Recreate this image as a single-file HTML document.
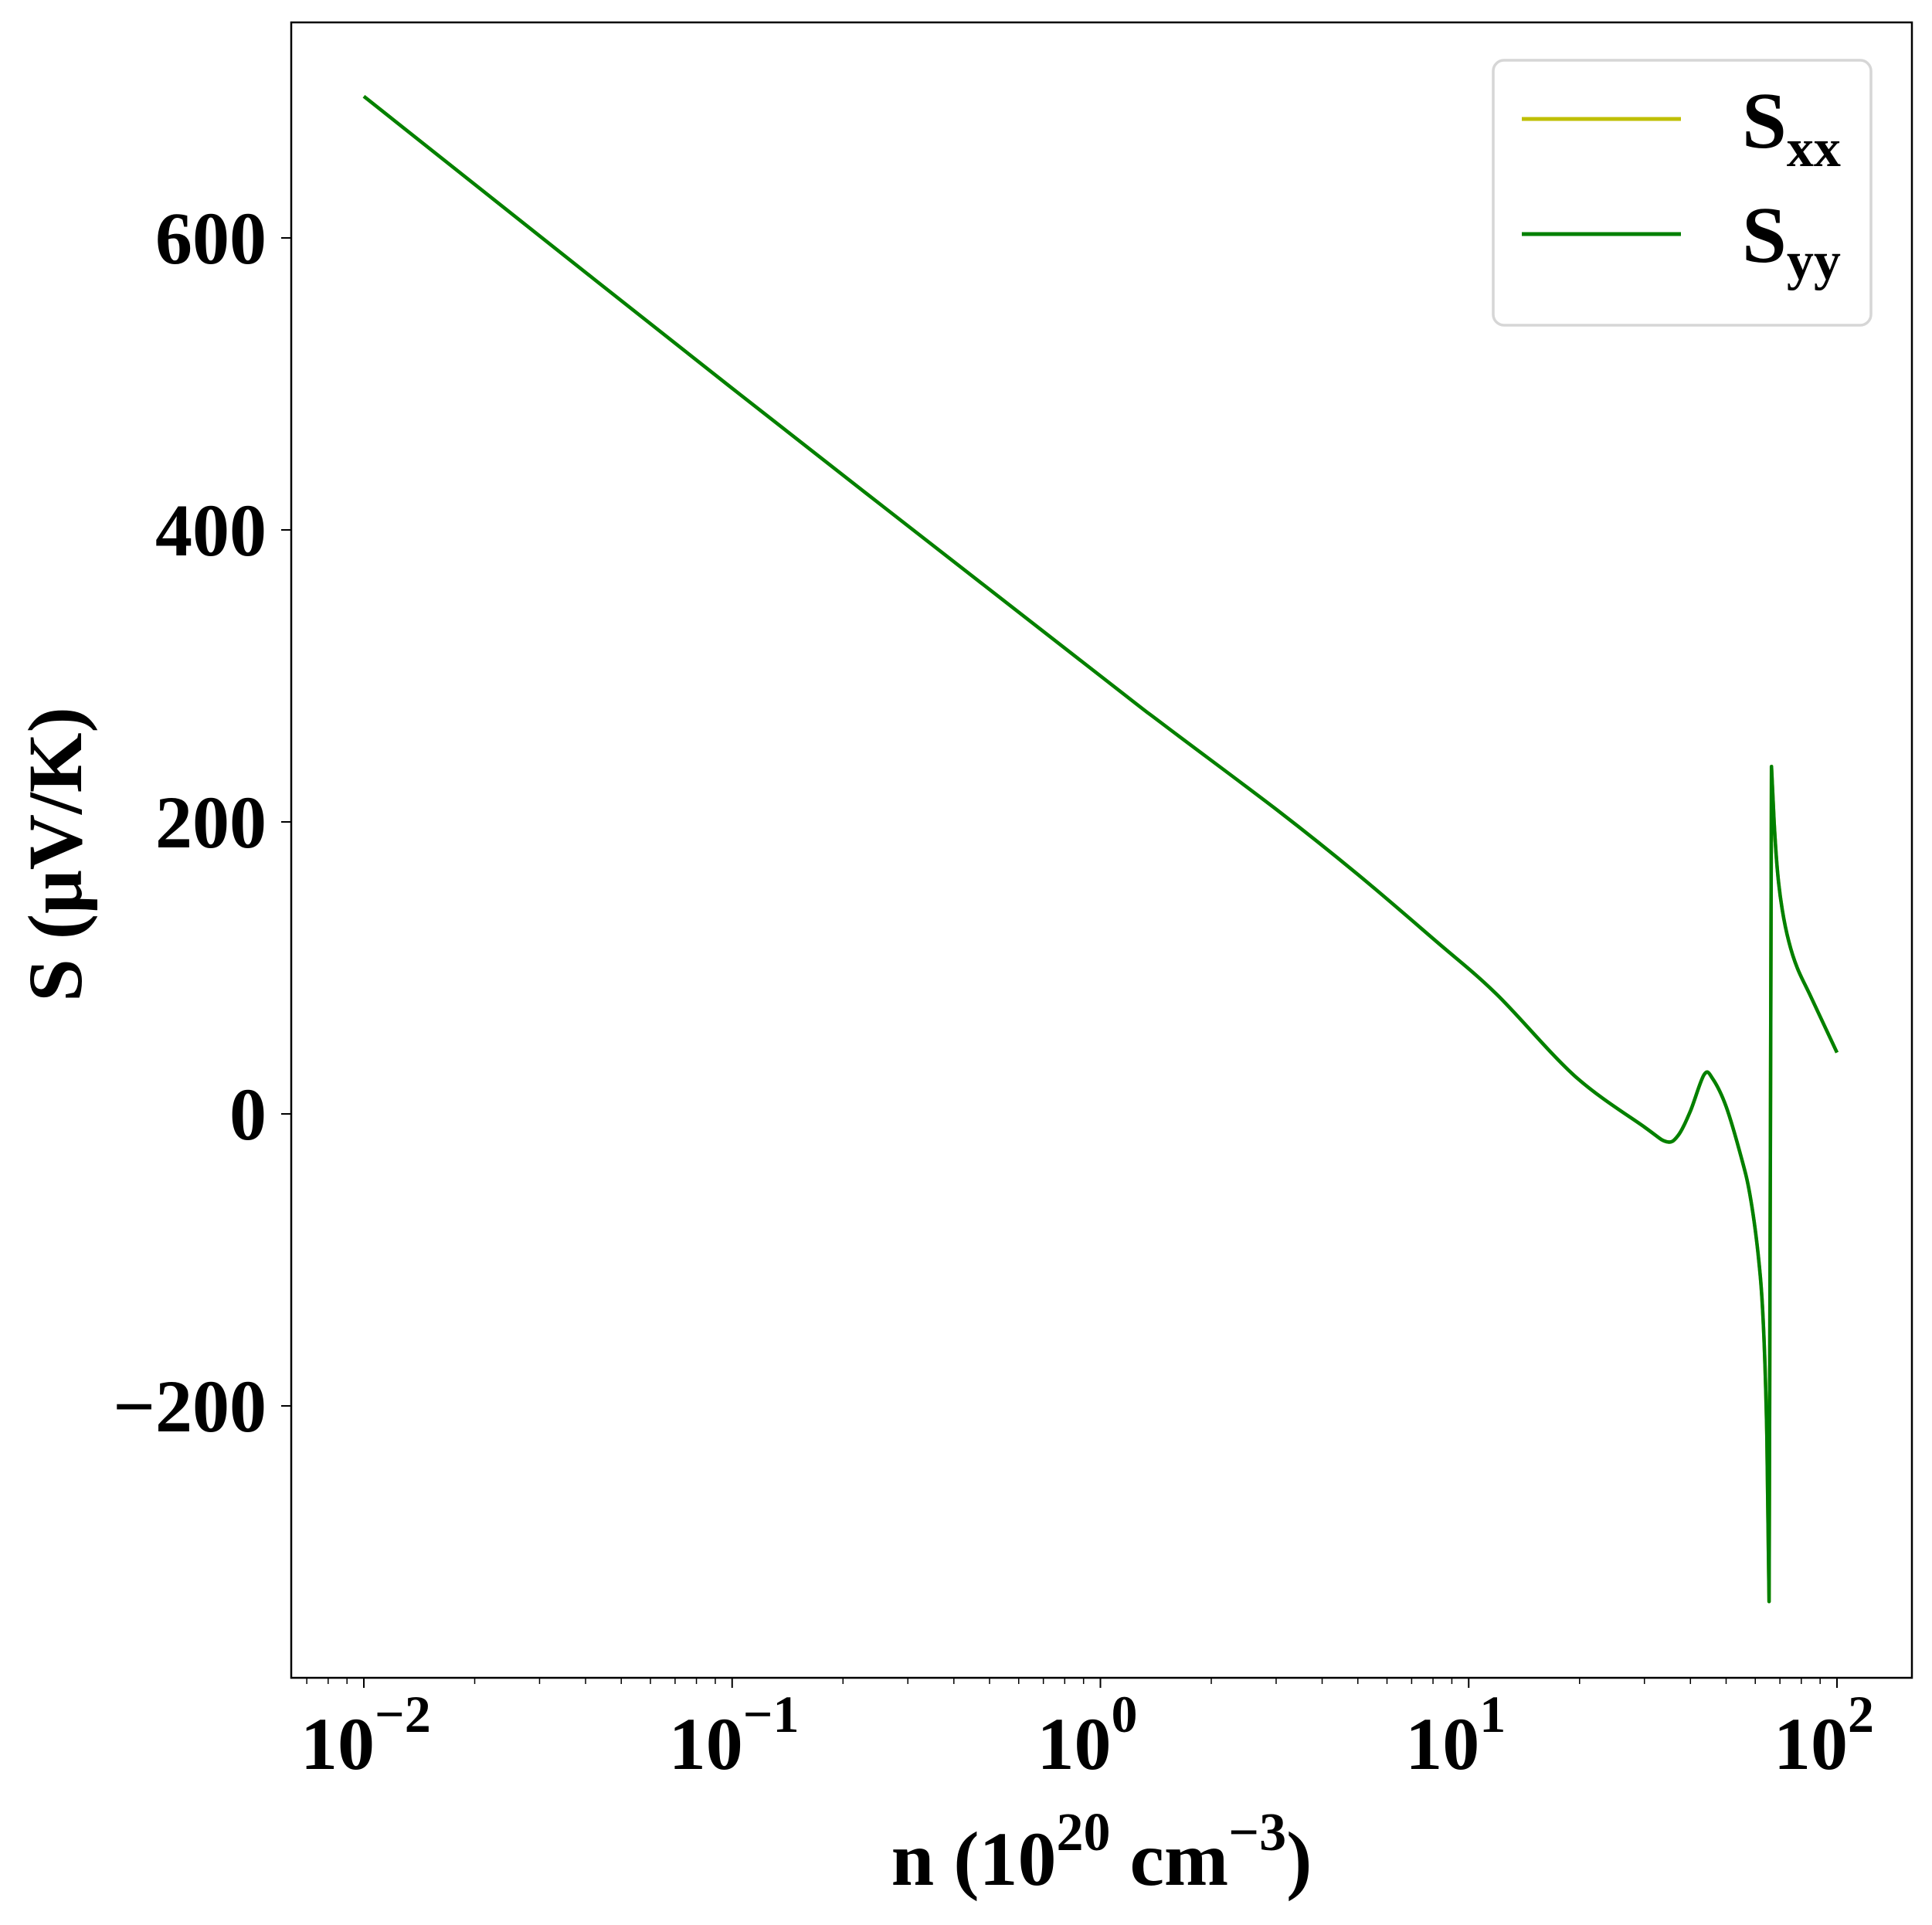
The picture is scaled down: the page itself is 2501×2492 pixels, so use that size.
<!DOCTYPE html>
<html><head><meta charset="utf-8"><style>
html,body{margin:0;padding:0;background:#fff;}
svg{display:block;}
text{font-family:"Liberation Serif",serif;font-weight:bold;fill:#000;}
</style></head><body>
<svg id="chart" width="2501" height="2492" viewBox="0 0 2501 2492" xmlns="http://www.w3.org/2000/svg">
<rect x="377" y="29" width="2098" height="2143" fill="#fff"/>
<g id="ticks"></g>
<g id="series"></g>
<rect x="377" y="29" width="2098" height="2143" fill="none" stroke="#000" stroke-width="2.5"/>
<text transform="translate(105,1106) rotate(-90)" text-anchor="middle" font-size="100">S (μV/K)</text>
<text x="1426" y="2440" text-anchor="middle" font-size="100">n (10<tspan dy="-45" font-size="70">20</tspan><tspan dy="45"> cm</tspan><tspan dy="-45" font-size="70">−3</tspan><tspan dy="45">)</tspan></text>
<g>
<rect x="1933" y="78" width="489" height="343" rx="14" fill="#fff" stroke="#d6d6d6" stroke-width="3.5"/>
<line x1="1970" y1="154" x2="2176" y2="154" stroke="#bfbf00" stroke-width="5"/>
<text x="2255" y="191" font-size="104">S<tspan dy="24" font-size="70">xx</tspan></text>
<line x1="1970" y1="303" x2="2176" y2="303" stroke="#008000" stroke-width="5"/>
<text x="2255" y="339" font-size="104">S<tspan dy="22" font-size="70">yy</tspan></text>
</g>
</svg>
<script>
const nValues = [0.01, 0.1, 1, 1.46, 3.06, 5, 8.18, 11.9, 19.4, 30, 34.4, 37, 40, 43.6, 46, 50, 55, 58, 61, 63, 64.5, 65.4, 66.4, 67.5, 69, 71, 74, 78, 85, 100];
const sxxValues = [697, 497, 300, 268, 207, 164, 118, 82, 26, -9, -19, -15, 2, 27, 24, 5, -30, -55, -95, -140, -220, -334, 238, 200, 165, 140, 118, 100, 80, 42];
const syyValues = [697, 497, 300, 268, 207, 164, 118, 82, 26, -9, -19, -15, 2, 27, 24, 5, -30, -55, -95, -140, -220, -334, 238, 200, 165, 140, 118, 100, 80, 42];
const yTickValues = [-200, 0, 200, 400, 600];
const xTickExponents = [-2, -1, 0, 1, 2];

const NS = "http://www.w3.org/2000/svg";
function xScale(n){ return 471 + (Math.log10(n) + 2) * 476.75; }
function yScale(v){ return 1442 - v * 1.89; }
function mk(tag, attrs){ const e = document.createElementNS(NS, tag); for (const k in attrs) e.setAttribute(k, attrs[k]); return e; }

const ticks = document.getElementById('ticks');
yTickValues.forEach(v => {
  const y = yScale(v);
  const t = mk('line', {x1: 364, y1: y, x2: 377, y2: y, stroke: '#000', 'stroke-width': 2});
  
  
  ticks.appendChild(t);
  const lb = mk('text', {x: 345, y: y + 33, 'text-anchor': 'end', 'font-size': 96});
  lb.textContent = v < 0 ? '−' + Math.abs(v) : String(v);
  
  
  ticks.appendChild(lb);
});
xTickExponents.forEach(e => {
  const x = xScale(Math.pow(10, e));
  const t = mk('line', {x1: x, y1: 2172, x2: x, y2: 2185, stroke: '#000', 'stroke-width': 2});
  
  
  ticks.appendChild(t);
  const lb = mk('text', {x: x - 82, y: 2290, 'font-size': 96});
  lb.innerHTML = '10<tspan dy="-48" font-size="68">' + (e < 0 ? '−' + Math.abs(e) : e) + '</tspan>';
  
  
  ticks.appendChild(lb);
});
for (let e = -3; e <= 2; e++) {
  for (let m = 2; m <= 9; m++) {
    const n = m * Math.pow(10, e);
    const x = xScale(n);
    if (x < 379 || x > 2473) continue;
    const t = mk('line', {x1: x, y1: 2172, x2: x, y2: 2180, stroke: '#000', 'stroke-width': 1.5});
    
    
    ticks.appendChild(t);
  }
}

const series = document.getElementById('series');
function drawLine(vals, color, name){
  const P = nValues.map((n, i) => [xScale(n), yScale(vals[i])]);
  let d = 'M' + P[0][0].toFixed(1) + ',' + P[0][1].toFixed(1);
  for (let i = 0; i < P.length - 1; i++) {
    const p0 = P[Math.max(0, i - 1)], p1 = P[i], p2 = P[i + 1], p3 = P[Math.min(P.length - 1, i + 2)];
    const sharp = (vals[i + 1] - vals[i]) > 300 || (i > 0 && vals[i] - vals[i - 1] > 300) || (i + 2 < P.length && vals[i + 2] - vals[i + 1] > 300);
    if (sharp) { d += ' L' + p2[0].toFixed(1) + ',' + p2[1].toFixed(1); continue; }
    const c1 = [p1[0] + (p2[0] - p0[0]) / 6, p1[1] + (p2[1] - p0[1]) / 6];
    const c2 = [p2[0] - (p3[0] - p1[0]) / 6, p2[1] - (p3[1] - p1[1]) / 6];
    d += ' C' + c1[0].toFixed(1) + ',' + c1[1].toFixed(1) + ' ' + c2[0].toFixed(1) + ',' + c2[1].toFixed(1) + ' ' + p2[0].toFixed(1) + ',' + p2[1].toFixed(1);
  }
  const p = mk('path', {d: d, fill: 'none', stroke: color, 'stroke-width': 4.5, 'stroke-linejoin': 'round'});
  
  
  series.appendChild(p);
}
drawLine(sxxValues, '#bfbf00', 'line-sxx');
drawLine(syyValues, '#008000', 'line-syy');
</script>
</body></html>
